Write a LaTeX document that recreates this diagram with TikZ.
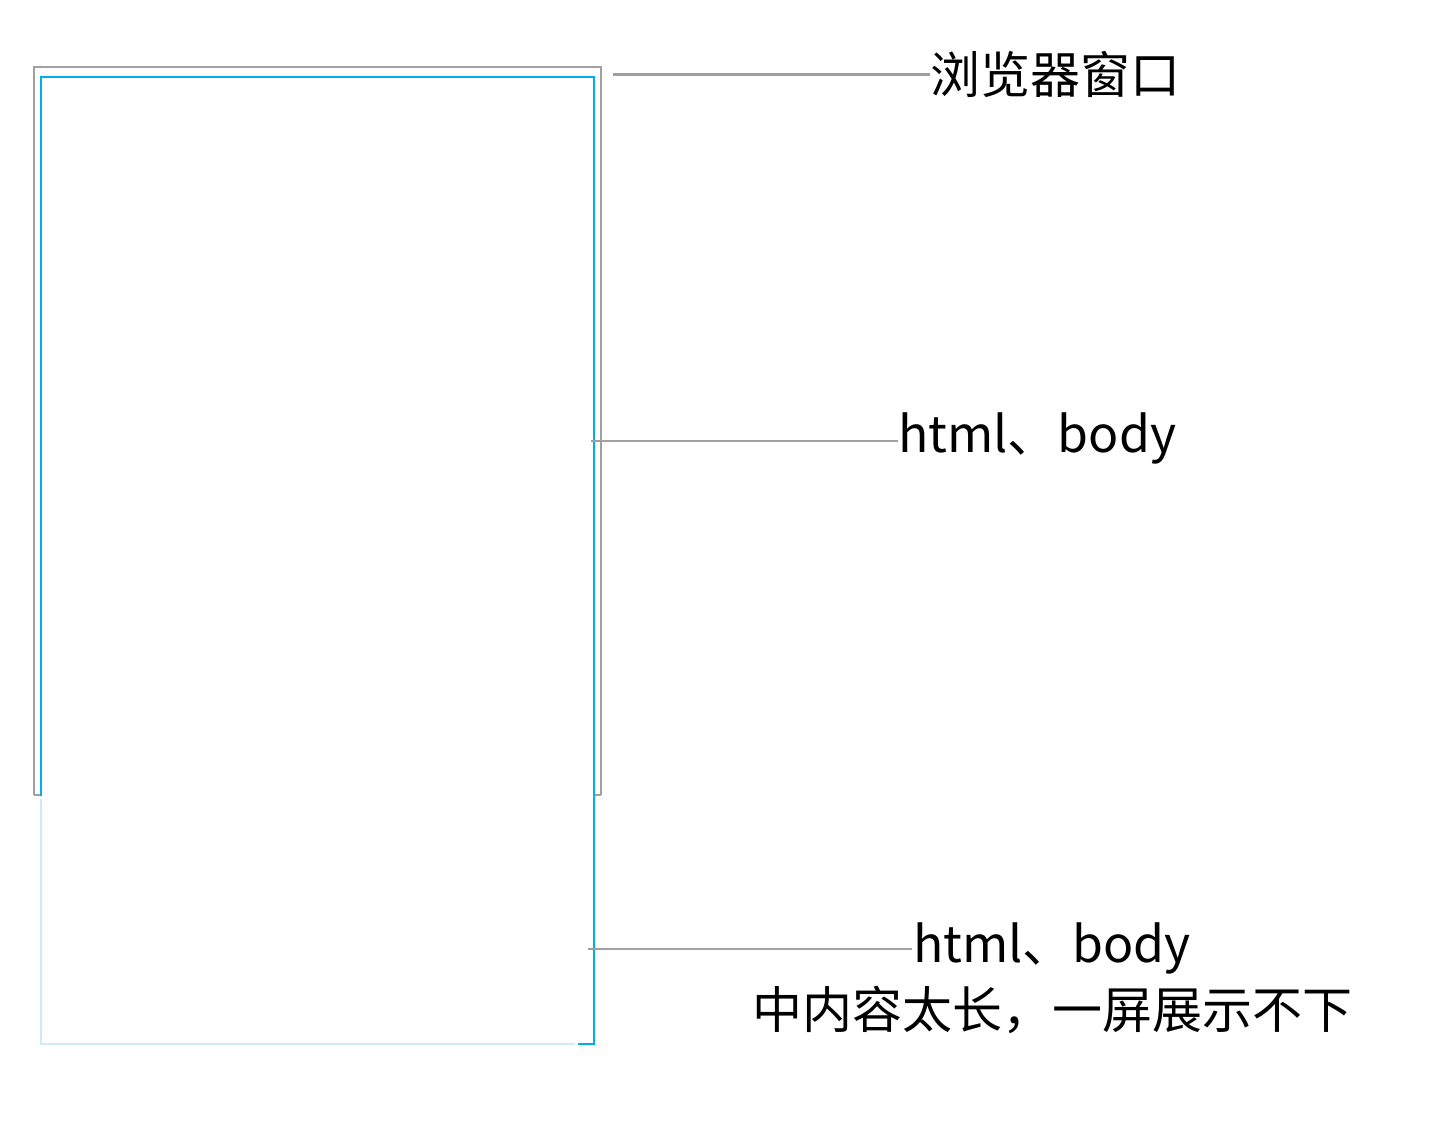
\documentclass[tikz,border=0pt]{standalone}
\usepackage{fontspec}
\setmainfont{Noto Sans CJK SC}
\definecolor{wgray}{HTML}{A0A0A0}
\definecolor{bblue}{HTML}{00AEEF}
\definecolor{lblue}{HTML}{CCEBFA}
\begin{document}
\begin{tikzpicture}[x=1pt,y=-1pt,
  frame/.style={draw=wgray,line width=2.8pt},
  bodyline/.style={draw=bblue,line width=2.8pt},
  fadeline/.style={draw=lblue,line width=2.8pt},
  leader/.style={draw=wgray,line width=2.4pt},
  lbl/.style={font=\fontsize{50}{66}\selectfont,inner sep=0pt,align=center}]
\useasboundingbox (0,0) rectangle (1430,1138);
% browser window
\draw[frame] (34,795) -- (34,67) -- (601,67) -- (601,795);
\draw[frame] (34,795) -- (41,795);
\draw[frame] (601,795) -- (594,795);
% html/body box
\draw[bodyline] (41,796) -- (41,77) -- (594,77) -- (594,1044) -- (578,1044);
\draw[fadeline] (41,799) -- (41,1044) -- (575,1044);
% labels
\node[lbl,anchor=west] (win) at (930,74) {浏览器窗口};
\node[lbl,anchor=west] (hb) at (898,438) {html、body};
\node[lbl,anchor=north] (long) at (1052,922) {html、body\\中内容太长，一屏展示不下};
\coordinate (p1) at (613,74.5);
\coordinate (p2) at (591,441);
\coordinate (p3) at (588,949);
\draw[leader] (p1) -- (win.west |- p1);
\draw[leader] (p2) -- (hb.west |- p2);
\draw[leader] (p3) -- (912,949);
\end{tikzpicture}
\end{document}
